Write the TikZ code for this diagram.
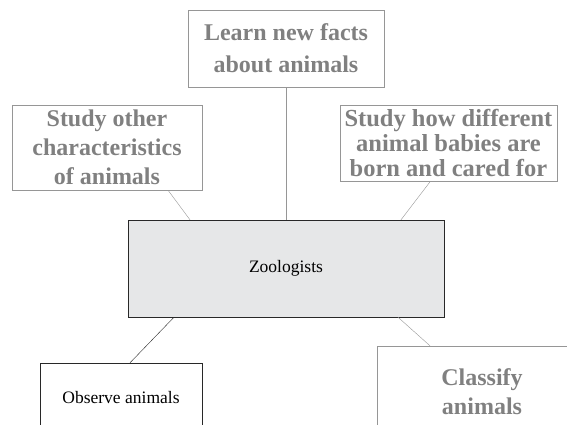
\documentclass[tikz,border=0pt]{standalone}
\usepackage{fontspec}
\setmainfont{Liberation Serif}
\usetikzlibrary{positioning}
\definecolor{cGrey}{RGB}{128,128,128}
\definecolor{cEdge}{RGB}{150,150,150}
\definecolor{cFill}{RGB}{230,231,232}
\definecolor{cDark}{RGB}{40,40,40}
\tikzset{
	topic/.style  ={rectangle, draw=cEdge, text=cGrey, align=center, inner sep=1pt, font=\fontsize{24}{29}\selectfont\bfseries},
	hub/.style    ={rectangle, draw=cDark, fill=cFill, align=center, font=\fontsize{17.5}{20}\selectfont},
	plain/.style  ={rectangle, draw=cDark, align=center, font=\fontsize{17.5}{20}\selectfont},
	glink/.style  ={draw=cEdge, thin},
	dlink/.style  ={draw=cDark, thin},
}
\begin{document}
\begin{tikzpicture}[x=1pt, y=-1pt]
	\useasboundingbox (0,0) rectangle (567,425);
	\clip (0,0) rectangle (567,425);
	% hub
	\node[hub, minimum width=316pt, minimum height=97pt] (zoo) at (286,268.5) {Zoologists};
	% upper topics
	\node[topic, minimum width=196pt, minimum height=77pt, font=\fontsize{24}{32}\selectfont\bfseries] (facts) at (286,48.5) {Learn new facts\\about animals};
	\node[topic, minimum width=190pt, minimum height=85pt] (traits) at (107,147.5) {Study other\\characteristics\\of animals};
	\node[topic, minimum width=217pt, minimum height=76pt, font=\fontsize{24.5}{25}\selectfont\bfseries] (babies) at (448.5,143) {Study how different\\animal babies are\\born and cared for};
	% lower topics
	\node[plain, minimum width=162pt, minimum height=70pt] (observe) at (121,398) {Observe animals};
	\node[topic, minimum width=210pt, minimum height=92pt] (classify) at (482,392) {Classify\\animals};
	% links
	\draw[glink] (facts.south) -- (zoo.north);
	\draw[glink] ([xshift=61pt]traits.south) -- ([xshift=-96pt]zoo.north);
	\draw[glink] ([xshift=-18pt]babies.south) -- ([xshift=115pt]zoo.north);
	\draw[dlink] ([xshift=-112pt]zoo.south) -- ([xshift=9pt]observe.north);
	\draw[glink] ([xshift=112pt]zoo.south) -- ([xshift=-52pt]classify.north);
\end{tikzpicture}
\end{document}
